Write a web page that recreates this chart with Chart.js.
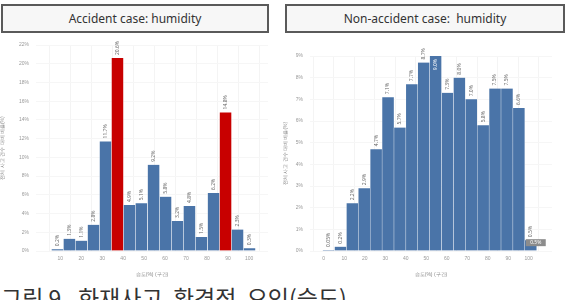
<!DOCTYPE html>
<html>
<head>
<meta charset="utf-8">
<script src="https://cdn.jsdelivr.net/npm/chart.js@4.4.0/dist/chart.umd.min.js"></script>
<style>
  body { margin:0; width:567px; height:300px; overflow:hidden; background:#fff; position:relative; font-family:"Noto Sans", sans-serif; }
  .title-box { position:absolute; top:4px; height:25px; border:2px solid #5a5a5a; background:#f7f7f7;
    font-size:12px; color:#333; text-align:center; line-height:25px; box-sizing:content-box; }
  .wrap { position:absolute; top:34px; height:246px; }
  #caption { position:absolute; left:1px; top:280px; font-family:"Noto Sans CJK KR", sans-serif; font-size:23px; color:#333; white-space:pre; }
</style>
</head>
<body>
<div class="title-box" style="left:1px;width:264px;">Accident case: humidity</div>
<div class="title-box" style="left:285px;width:276px;">Non-accident case:&nbsp; humidity</div>
<div class="wrap" style="left:0;width:272px;"><canvas id="left-canvas"></canvas></div>
<div class="wrap" style="left:283px;width:284px;"><canvas id="right-canvas"></canvas></div>
<div id="caption">그림 9.  화재사고  환경적  요인(습도)</div>
<script>
// humidity bin centers (%), bar heights (% of cases)
let acc_bins   = [8.7, 14.4, 20.1, 25.9, 31.6, 37.3, 43.0, 48.7, 54.5, 60.2, 65.9, 71.6, 77.3, 83.1, 88.8, 94.5, 100.2];
let acc_values = [0.2, 1.3, 1.1, 2.8, 11.7, 20.6, 4.9, 5.1, 9.2, 5.8, 3.2, 4.8, 1.5, 6.2, 14.8, 2.3, 0.3];
let acc_red    = [5, 14];
let acc_xticks = [10, 20, 30, 40, 50, 60, 70, 80, 90, 100];
let acc_yticks = [0, 2, 4, 6, 8, 10, 12, 14, 16, 18, 20, 22];

let non_bins   = [2.4, 8.2, 14.0, 19.8, 25.6, 31.4, 37.2, 43.0, 48.8, 54.6, 60.4, 66.2, 72.0, 77.8, 83.6, 89.4, 95.2, 101.0];
let non_values = [0.05, 0.2, 2.2, 2.9, 4.7, 7.1, 5.7, 7.7, 8.7, 9.0, 7.3, 8.0, 7.0, 5.8, 7.5, 7.5, 6.6, 0.5];
let non_xticks = [0, 10, 20, 30, 40, 50, 60, 70, 80, 90, 100];
let non_yticks = [0, 1, 2, 3, 4, 5, 6, 7, 8, 9];

const BLUE = '#4a74a8';
const RED = '#c80000';

const barLabels = {
  id: 'barLabels',
  afterDatasetsDraw(chart) {
    const ctx = chart.ctx;
    const meta = chart.getDatasetMeta(0);
    const data = chart.data.datasets[0].data;
    const max = Math.max(...data.map(d => d.y));
    const boxLast = chart.options.plugins.barLabels.boxLast;
    ctx.save();
    ctx.font = '5px "Noto Sans"';
    ctx.textBaseline = 'middle';
    meta.data.forEach((bar, i) => {
      const v = data[i].y;
      const txt = v.toFixed(v < 0.1 ? 2 : 1) + '%';
      ctx.save();
      if (boxLast && v === max) {
        ctx.translate(bar.x, bar.y + 3);
        ctx.rotate(-Math.PI / 2);
        ctx.textAlign = 'right';
        ctx.fillStyle = '#ffffff';
      } else {
        ctx.translate(bar.x, bar.y - 3);
        ctx.rotate(-Math.PI / 2);
        ctx.textAlign = 'left';
        ctx.fillStyle = '#666';
      }
      ctx.fillText(txt, 0, 0);
      ctx.restore();
      if (boxLast && i === data.length - 1) {
        ctx.fillStyle = '#8c8c8c';
        ctx.fillRect(bar.x - 5, bar.y - 1, 20, 7);
        ctx.fillStyle = '#fff';
        ctx.textAlign = 'center';
        ctx.fillText(txt, bar.x + 5, bar.y + 2.5);
      }
    });
    ctx.restore();
  }
};

function makeChart(id, bins, values, reds, xticks, yticks, xmin, xmax, ymax, yWidth, pad, boxLast) {
  let points = bins.map((b, i) => ({x: b, y: values[i]}));
  let colors = values.map((v, i) => reds.includes(i) ? RED : BLUE);
  let ctx = document.getElementById(id).getContext('2d');
  return new Chart(ctx, {
    type: 'bar',
    data: {
      datasets: [{
        data: points,
        backgroundColor: colors,
        borderColor: 'rgba(255,255,255,0.6)',
        borderWidth: {left: 0.5, right: 0.5, top: 0, bottom: 0},
        barPercentage: 1,
        categoryPercentage: 1
      }]
    },
    options: {
      responsive: true,
      maintainAspectRatio: false,
      animation: false,
      layout: {padding: pad},
      plugins: {
        legend: {display: false},
        tooltip: {enabled: false},
        barLabels: {boxLast: boxLast}
      },
      scales: {
        x: {
          type: 'linear',
          min: xmin, max: xmax,
          afterBuildTicks: s => { s.ticks = xticks.map(v => ({value: v})); },
          afterFit: s => { s.height = 29; },
          grid: {color: '#f4f4f4', drawTicks: false},
          border: {display: false},
          ticks: {font: {size: 5}, color: '#999', padding: 5, maxRotation: 0},
          title: {display: true, text: '습도(%) (구간)', font: {size: 5}, color: '#888', padding: 2}
        },
        y: {
          min: 0, max: ymax,
          afterBuildTicks: s => { s.ticks = yticks.map(v => ({value: v})); },
          afterFit: s => { s.width = yWidth; },
          grid: {color: '#f6f6f6', drawTicks: false},
          border: {display: false},
          ticks: {font: {size: 5}, color: '#999', padding: 7, callback: v => v + '%'},
          title: {display: true, text: '전체 사고 건수 대비 비율(%)', font: {size: 5}, color: '#888', padding: 0}
        }
      }
    },
    plugins: [barLabels]
  });
}

makeChart('left-canvas', acc_bins, acc_values, acc_red, acc_xticks, acc_yticks,
  4, 103.5, 22, 36, {top: 11, right: 4, left: 0, bottom: 0}, false);
makeChart('right-canvas', non_bins, non_values, [], non_xticks, non_yticks,
  -1.3, 106, 9, 27, {top: 22, right: 15, left: 0, bottom: 0}, true);
</script>
</body>
</html>
